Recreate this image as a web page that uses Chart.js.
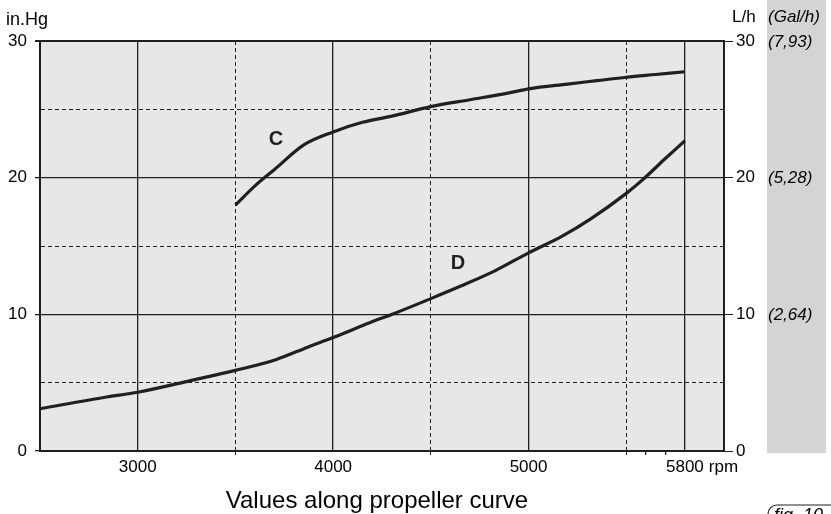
<!DOCTYPE html>
<html>
<head>
<meta charset="utf-8">
<script src="https://cdn.jsdelivr.net/npm/chart.js@4"></script>
<style>
  body { margin: 0; background: #fff; }
  canvas { display: block; }
</style>
</head>
<body>
<canvas id="myChart" width="831" height="514"></canvas>
<script>
// curve C (in.Hg)
const rpmC = [3500, 3600, 3700, 3850, 4000, 4150, 4300, 4500, 4700, 4900, 5000, 5200, 5350, 5500, 5650, 5800];
const valC = [18.0, 19.4, 20.6, 22.4, 23.35, 24.05, 24.5, 25.2, 25.7, 26.2, 26.5, 26.85, 27.1, 27.35, 27.55, 27.75];

// curve D (L/h)
const rpmD = [2500, 2840, 3000, 3270, 3500, 3710, 3870, 4000, 4190, 4310, 4500, 4650, 4830, 5000, 5170, 5320, 5500, 5580, 5700, 5800];
const valD = [3.1, 3.95, 4.3, 5.15, 5.9, 6.7, 7.6, 8.3, 9.4, 10.05, 11.15, 12.05, 13.2, 14.5, 15.7, 17.0, 18.85, 19.8, 21.4, 22.7];

const xTicks = [3000, 3500, 4000, 4500, 5000, 5500, 5600, 5700, 5800];
const xLabels = [3000, 4000, 5000, 5800];
const yTicks = [0, 5, 10, 15, 20, 25, 30];
const galLabels = { 10: '(2,64)', 20: '(5,28)', 30: '(7,93)' };
const labelC = [3708, 22.8];
const labelD = [4639, 13.75];

const FONT = '"Liberation Sans", Arial, Helvetica, sans-serif';
const INK = '#231f20';

function pairs(xs, ys) {
    var out = [];
    for (var i = 0; i < xs.length; i++) out.push({ x: xs[i], y: ys[i] });
    return out;
}

const decor = {
    id: 'decor',
    beforeDraw: function (chart) {
        var c = chart.ctx, a = chart.chartArea;
        c.save();
        c.fillStyle = '#d3d4d6';
        c.fillRect(767, 0, 59, 453);
        c.fillStyle = '#e6e7e9';
        c.fillRect(a.left, a.top, a.right - a.left, a.bottom - a.top);
        c.restore();
    },
    afterDraw: function (chart) {
        var c = chart.ctx, x = chart.scales.x, y2 = chart.scales.y2;
        c.save();
        c.fillStyle = '#000';
        c.textBaseline = 'alphabetic';
        c.font = '18px ' + FONT;
        c.fillText('in.Hg', 6, 25);
        c.font = '17px ' + FONT;
        c.fillText('L/h', 732, 22);
        c.font = 'italic 17px ' + FONT;
        c.fillText('(Gal/h)', 768, 22);
        c.textBaseline = 'middle';
        for (var k in galLabels) {
            c.fillText(galLabels[k], 768, y2.getPixelForValue(Number(k)) + 1);
        }
        // "rpm" after the last tick label
        c.font = '17px ' + FONT;
        c.textBaseline = 'alphabetic';
        var w = c.measureText('5800').width;
        c.fillText('rpm', x.getPixelForValue(5800) + w / 2 + 5, 472);
        // axis caption
        c.font = '24px ' + FONT;
        c.textAlign = 'center';
        c.fillText('Values along propeller curve', 377, 508);
        // curve names
        c.font = 'bold 20px ' + FONT;
        c.textBaseline = 'middle';
        c.fillStyle = INK;
        c.fillText('C', x.getPixelForValue(labelC[0]), chart.scales.y.getPixelForValue(labelC[1]));
        c.fillText('D', x.getPixelForValue(labelD[0]), chart.scales.y.getPixelForValue(labelD[1]));
        // figure tag
        c.textAlign = 'left';
        c.strokeStyle = INK;
        c.lineWidth = 1.2;
        c.beginPath();
        c.roundRect(768, 505, 90, 24, 9);
        c.stroke();
        c.font = 'italic 18px ' + FONT;
        c.fillStyle = '#000';
        c.textBaseline = 'alphabetic';
        c.fillText('fig. 10', 774, 521);
        c.restore();
    }
};

const data = {
    datasets: [{
        label: 'C',
        data: pairs(rpmC, valC),
        borderColor: INK,
        borderWidth: 3.2,
        pointRadius: 0,
        cubicInterpolationMode: 'monotone'
    }, {
        label: 'D',
        data: pairs(rpmD, valD),
        borderColor: INK,
        borderWidth: 3.2,
        pointRadius: 0,
        cubicInterpolationMode: 'monotone'
    }]
};

function isDashed(v) { return v % 10 === 5 || v === 3500 || v === 4500 || v === 5500; }

const config = {
    type: 'line',
    data: data,
    plugins: [decor],
    options: {
        responsive: false,
        devicePixelRatio: 1,
        animation: false,
        layout: { padding: { top: 41, left: 0, right: 0, bottom: 0 } },
        plugins: { legend: { display: false }, tooltip: { enabled: false } },
        scales: {
            x: {
                type: 'linear',
                min: 2500,
                max: 6000,
                afterFit: function (s) { s.height = 63; },
                afterBuildTicks: function (s) { s.ticks = xTicks.map(function (v) { return { value: v }; }); },
                ticks: {
                    autoSkip: false,
                    maxRotation: 0,
                    padding: 2,
                    color: '#000',
                    font: { family: FONT, size: 17 },
                    callback: function (v) { return xLabels.indexOf(v) >= 0 ? String(v) : ''; }
                },
                grid: {
                    tickLength: 4,
                    color: function (ctx) {
                        var v = ctx.tick ? ctx.tick.value : 0;
                        return (v === 5600 || v === 5700) ? 'rgba(0,0,0,0)' : INK;
                    },
                    lineWidth: function (ctx) {
                        var v = ctx.tick ? ctx.tick.value : 0;
                        return isDashed(v) ? 1 : 1.3;
                    },
                    tickColor: function (ctx) {
                        var v = ctx.tick ? ctx.tick.value : 0;
                        return (isDashed(v) || v === 5600 || v === 5700) ? INK : 'rgba(0,0,0,0)';
                    }
                },
                border: {
                    color: INK,
                    width: 2,
                    dash: function (ctx) {
                        var v = ctx.tick ? ctx.tick.value : 0;
                        return isDashed(v) ? [4, 3] : [];
                    }
                }
            },
            y: {
                position: 'left',
                min: 0,
                max: 30,
                afterFit: function (s) { s.width = 40; },
                afterBuildTicks: function (s) { s.ticks = yTicks.map(function (v) { return { value: v }; }); },
                ticks: {
                    padding: 8,
                    color: '#000',
                    font: { family: FONT, size: 17 },
                    callback: function (v) { return v % 10 === 0 ? String(v) : ''; }
                },
                grid: {
                    tickLength: 5,
                    color: INK,
                    lineWidth: function (ctx) {
                        var v = ctx.tick ? ctx.tick.value : 0;
                        if (v === 30) return 2;
                        return isDashed(v) ? 1 : 1.3;
                    },
                    tickColor: function (ctx) {
                        var v = ctx.tick ? ctx.tick.value : 0;
                        return isDashed(v) ? 'rgba(0,0,0,0)' : INK;
                    }
                },
                border: {
                    color: INK,
                    width: 2,
                    dash: function (ctx) {
                        var v = ctx.tick ? ctx.tick.value : 0;
                        return isDashed(v) ? [4, 3] : [];
                    }
                }
            },
            y2: {
                position: 'right',
                min: 0,
                max: 30,
                afterFit: function (s) { s.width = 107; },
                afterBuildTicks: function (s) { s.ticks = [0, 10, 20, 30].map(function (v) { return { value: v }; }); },
                ticks: {
                    padding: 3,
                    color: '#000',
                    font: { family: FONT, size: 17 }
                },
                grid: {
                    drawOnChartArea: false,
                    tickLength: 9,
                    tickColor: INK
                },
                border: { color: INK, width: 2 }
            }
        }
    }
};

const myChart = new Chart(document.getElementById('myChart'), config);
</script>
</body>
</html>
